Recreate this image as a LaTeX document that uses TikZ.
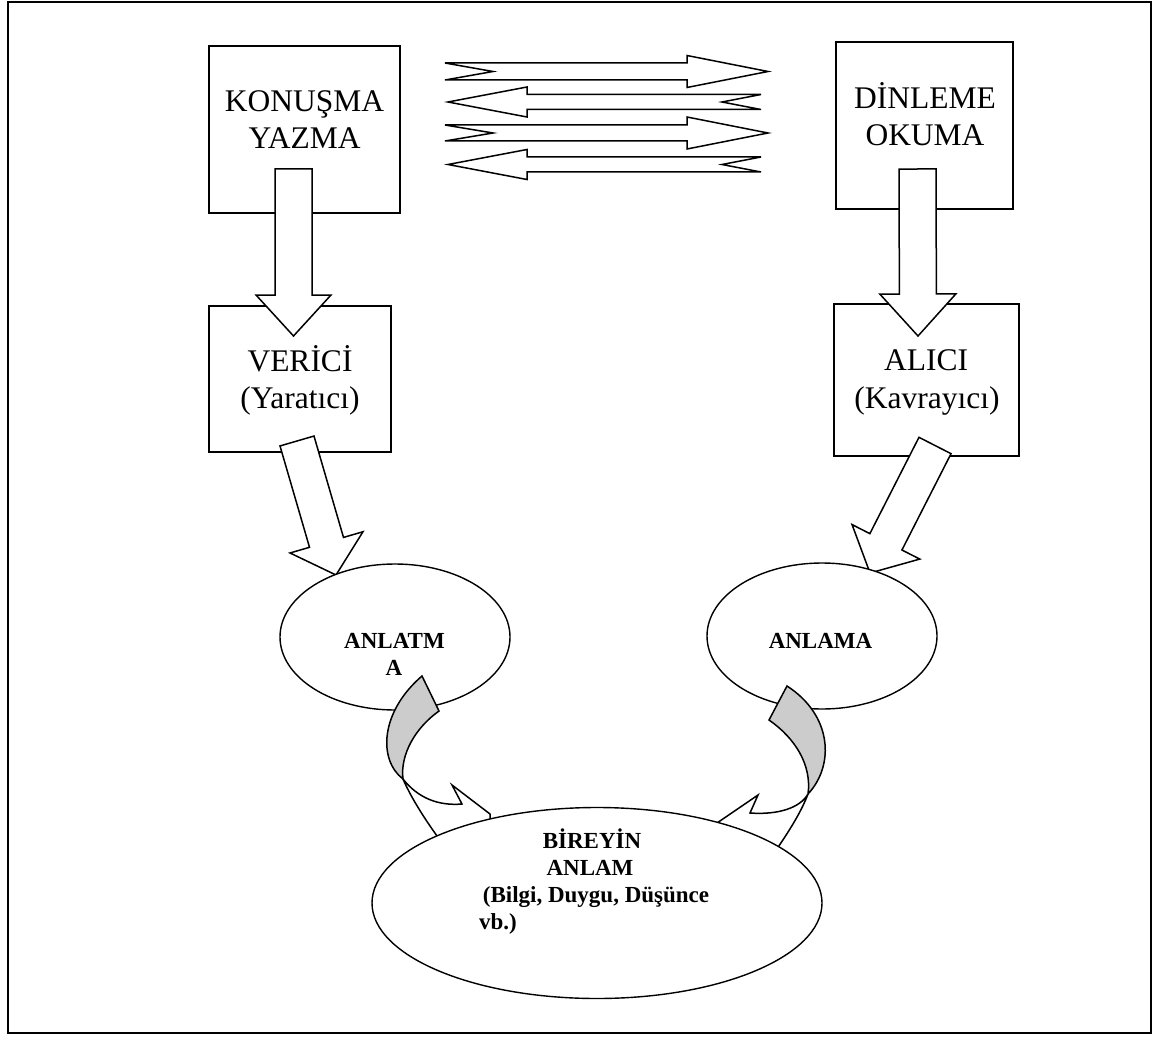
\documentclass[tikz,border=0pt]{standalone}
\usepackage{fontspec}
\setmainfont{Liberation Serif}
\usetikzlibrary{calc,shapes.geometric}
\definecolor{shade}{RGB}{204,204,204}
\newcommand\blockarrow[5]{%
  \coordinate (hb) at ($(#2)!#5!(#1)$);
  \draw[blk] ($(#1)!#3!90:(#2)$) -- ($(hb)!#3!90:(#2)$) -- ($(hb)!#4!90:(#2)$) -- (#2)
    -- ($(hb)!#4!-90:(#2)$) -- ($(hb)!#3!-90:(#2)$) -- ($(#1)!#3!-90:(#2)$) -- cycle;}
\newcommand\notcharrow[6]{%
  \coordinate (hb) at ($(#2)!#5!(#1)$);
  \draw[blk] ($(#1)!#3!90:(#2)$) -- ($(hb)!#3!90:(#2)$) -- ($(hb)!#4!90:(#2)$) -- (#2)
    -- ($(hb)!#4!-90:(#2)$) -- ($(hb)!#3!-90:(#2)$) -- ($(#1)!#3!-90:(#2)$)
    -- ($(#1)!#6!(#2)$) -- cycle;}
\begin{document}
\begin{tikzpicture}[x=1pt,y=-1pt,
  frame/.style={draw,line width=2pt,rectangle,inner sep=0pt},
  box/.style={draw,line width=1.8pt,rectangle,inner sep=0pt},
  blk/.style={draw,fill=white,line width=1.5pt,line join=miter},
  oval/.style={draw,fill=white,line width=1.4pt,ellipse,inner sep=0pt},
  big/.style={font=\fontsize{31.5}{37}\selectfont,inner sep=0pt,anchor=base},
  bold/.style={font=\fontsize{23}{27}\selectfont\bfseries,inner sep=0pt,anchor=base}]
\useasboundingbox (0,0) rectangle (1156,1043);
\node[frame,minimum width=1143pt,minimum height=1031pt] (frame) at (579.5,517.5) {};

% boxes
\node[box,minimum width=191pt,minimum height=167pt] (konusma) at (304.5,129.5) {};
\node[box,minimum width=177pt,minimum height=167pt] (dinleme) at (924.5,125.5) {};
\node[box,minimum width=182pt,minimum height=146pt] (verici) at (300,379) {};
\node[box,minimum width=185pt,minimum height=152pt] (alici) at (926.5,380) {};

\node[big] (t-kon) at (304.5,112) {KONUŞMA};
\node[big] (t-yaz) at (304.5,149) {YAZMA};
\node[big] (t-din) at (925,109) {DİNLEME};
\node[big] (t-oku) at (925,146) {OKUMA};
\node[big] (t-ver) at (300,371) {VERİCİ};
\node[big] (t-yar) at (300,408) {(Yaratıcı)};
\node[big] (t-ali) at (926,370) {ALICI};
\node[big] (t-kav) at (927,408) {(Kavrayıcı)};

% horizontal notched arrows
\coordinate (h1s) at (445,71.5);  \coordinate (h1t) at (768,71.5);
\coordinate (h2s) at (761,102);   \coordinate (h2t) at (448,102);
\coordinate (h3s) at (445,133);   \coordinate (h3t) at (768,133);
\coordinate (h4s) at (761,164.5); \coordinate (h4t) at (448,164.5);
\notcharrow{h1s}{h1t}{8.5pt}{16pt}{81pt}{48pt}
\notcharrow{h2s}{h2t}{7.5pt}{15pt}{79pt}{39pt}
\notcharrow{h3s}{h3t}{8pt}{16pt}{81pt}{48pt}
\notcharrow{h4s}{h4t}{7.5pt}{15pt}{79pt}{39pt}

% down arrows
\coordinate (d1s) at (293.5,169); \coordinate (d1t) at (293.5,336);
\coordinate (d2s) at (917.5,169); \coordinate (d2t) at (918,336);
\blockarrow{d1s}{d1t}{18.5pt}{37.5pt}{41pt}
\blockarrow{d2s}{d2t}{18.5pt}{38pt}{42pt}

% diagonal arrows
\coordinate (g1s) at (297,441); \coordinate (g1t) at (336,575);
\coordinate (g2s) at (935,445.5); \coordinate (g2t) at (870,573);
\blockarrow{g1s}{g1t}{17.7pt}{38pt}{34pt}
\blockarrow{g2s}{g2t}{18pt}{38pt}{35pt}

% middle ellipses
\node[oval,minimum width=230pt,minimum height=146pt] (anlatma) at (395,637) {};
\node[oval,minimum width=230pt,minimum height=146pt] (anlama) at (822,636) {};
\node[bold] (t-anlatm) at (394.5,648) {ANLATM};
\node[bold] (t-a) at (394,675) {A};
\node[bold] (t-anlama) at (820.5,648) {ANLAMA};

% curved arrows
\draw[blk] (403,779) .. controls (418,798) and (438,806) .. (462,804) -- (452,785) -- (490,814)
  -- (492,860) -- (455,860) .. controls (430,828) and (412,800) .. (403,779) -- cycle;
\draw[blk,fill=shade] (422,676) -- (439,711) .. controls (415,728) and (400,755) .. (403,779)
  .. controls (378,760) and (380,712) .. (422,676) -- cycle;
\draw[blk] (808,794) .. controls (800,808) and (778,815) .. (750,813) -- (758,795) -- (717,823)
  -- (717,870) -- (762,870) .. controls (785,838) and (800,815) .. (808,794) -- cycle;
\draw[blk,fill=shade] (787,686) -- (769,720) .. controls (795,738) and (812,765) .. (808,794)
  .. controls (835,765) and (832,715) .. (787,686) -- cycle;

% bottom ellipse
\node[oval,minimum width=450pt,minimum height=191pt] (bireyin) at (597,903) {};
\node[bold] (t-bir) at (592,848) {BİREYİN};
\node[bold] (t-anl) at (590,875) {ANLAM};
\node[bold] (t-bil) at (596,902) {(Bilgi, Duygu, Düşünce};
\node[bold,anchor=base west] (t-vb) at (479,929) {vb.)};
\end{tikzpicture}
\end{document}
